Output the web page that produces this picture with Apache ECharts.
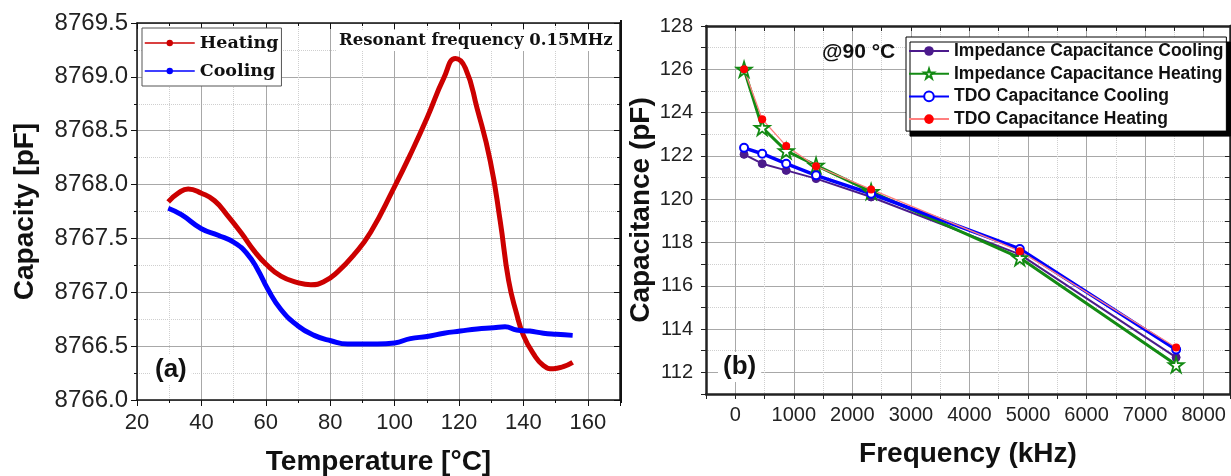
<!DOCTYPE html>
<html>
<head>
<meta charset="utf-8">
<script src="https://cdn.jsdelivr.net/npm/echarts@6/dist/echarts.min.js"></script>
<style>
  html, body { margin: 0; padding: 0; background: #fff; }
  #chart { width: 1231px; height: 476px; }
</style>
</head>
<body>
<div id="chart"></div>
<script>
// (a) capacity vs temperature
const tempHeat = [29.7, 32.8, 35.9, 40, 44.1, 48.2, 52.4, 56.5, 60.1, 64.7, 69.9, 74, 78.1, 82.3, 87.4, 92.6, 99.8, 104.9, 110.1, 115.3, 118.9, 122, 125.6, 129.7, 132.8, 135.4, 137.9, 140, 143.1, 146.2, 149.3, 152.4, 155.3]
const capHeat = [8767.84, 8767.92, 8767.96, 8767.92, 8767.85, 8767.71, 8767.55, 8767.38, 8767.26, 8767.15, 8767.09, 8767.07, 8767.10, 8767.19, 8767.35, 8767.56, 8767.97, 8768.28, 8768.62, 8768.99, 8769.17, 8769.08, 8768.71, 8768.22, 8767.66, 8767.11, 8766.80, 8766.60, 8766.43, 8766.32, 8766.29, 8766.31, 8766.35]
const tempCool = [29.7, 33.8, 40, 45.2, 50.3, 54.4, 57.5, 60.6, 64.7, 69.9, 75, 80.2, 85.4, 94.6, 100, 104.9, 110.1, 115.3, 120.4, 125.6, 130.7, 134.3, 137.9, 142, 146.2, 150.3, 155.3]
const capCool = [8767.78, 8767.72, 8767.59, 8767.53, 8767.46, 8767.35, 8767.21, 8767.03, 8766.84, 8766.69, 8766.60, 8766.55, 8766.52, 8766.52, 8766.53, 8766.57, 8766.59, 8766.62, 8766.64, 8766.66, 8766.67, 8766.68, 8766.65, 8766.64, 8766.62, 8766.61, 8766.60]

// (b) capacitance vs frequency @90 °C
const freqKHz = [150, 460, 870, 1380, 2320, 4860, 7530]
const impCool = [122.07, 121.64, 121.33, 120.95, 120.1, 117.45, 112.69]
const impHeat = [126.0, 123.31, 122.23, 121.56, 120.35, 117.29, 112.35]
const tdoCool = [122.37, 122.1, 121.64, 121.1, 120.25, 117.7, 113.05]
const tdoHeat = [126.0, 123.69, 122.46, 121.52, 120.45, 117.6, 113.15]

const sans = 'Liberation Sans, Arial, sans-serif'
const serif = 'DejaVu Serif, serif'
const major = '#a8a8a8'
const minor = '#cfcfcf'
const star = 'path://M50,0 L61,35 L98,35 L68,57 L79,91 L50,70 L21,91 L32,57 L2,35 L39,35 Z'

function pairs(xs, ys) {
  return xs.map((x, i) => [x, ys[i]])
}

let chartDom = echarts.init(document.getElementById('chart'))
let option = {
  animation: false,
  backgroundColor: '#fff',
  grid: [
    { left: 137, top: 23, width: 483, height: 377, outerBoundsMode: 'none', containLabel: false },
    { left: 706, top: 26, width: 524, height: 368, outerBoundsMode: 'none', containLabel: false },
  ],
  legend: [
    {
      data: ['Heating', 'Cooling'],
      orient: 'vertical',
      left: 142,
      top: 28,
      padding: [5, 3, 5, 2],
      itemWidth: 50,
      itemHeight: 8,
      itemGap: 8,
      backgroundColor: '#fff',
      borderColor: '#555',
      borderWidth: 1,
      lineStyle: { width: 1.5 },
      textStyle: { fontFamily: serif, fontWeight: 'bold', fontSize: 17.5, color: '#111', lineHeight: 20 },
    },
    {
      data: ['Impedance Capacitance Cooling', 'Impedance Capacitance Heating', 'TDO Capacitance Cooling', 'TDO Capacitance Heating'],
      orient: 'vertical',
      left: 906,
      top: 37,
      padding: [5, 3, 3, 2],
      itemWidth: 40,
      itemHeight: 12,
      itemGap: 4.7,
      backgroundColor: '#fff',
      borderColor: '#000',
      borderWidth: 1,
      shadowColor: '#000',
      shadowOffsetX: 4,
      shadowOffsetY: 5,
      shadowBlur: 0,
      textStyle: { fontFamily: sans, fontWeight: 'bold', fontSize: 17.5, color: '#111', lineHeight: 17 },
    },
  ],
  xAxis: [
    {
      gridIndex: 0,
      type: 'value',
      min: 20,
      max: 170,
      interval: 20,
      name: 'Temperature [°C]',
      nameLocation: 'middle',
      nameGap: 48,
      nameTextStyle: { fontFamily: sans, fontWeight: 'bold', fontSize: 28, color: '#111' },
      axisLine: { onZero: false, lineStyle: { color: '#111', width: 1.5 } },
      axisTick: { length: 6, lineStyle: { color: '#111' } },
      minorTick: { show: true, splitNumber: 2, length: 3, lineStyle: { color: '#111' } },
      axisLabel: {
        margin: 12,
        fontFamily: sans,
        fontSize: 22,
        color: '#222',
        showMaxLabel: false,
        formatter: (v) => (v % 20 === 0 ? v : ''),
      },
      splitLine: { show: true, lineStyle: { color: major } },
      minorSplitLine: { show: true, lineStyle: { color: minor, type: 'dotted' } },
    },
    {
      gridIndex: 0,
      type: 'value',
      position: 'top',
      min: 20,
      max: 170,
      interval: 20,
      axisLine: { onZero: false, lineStyle: { color: '#111', width: 1.5 } },
      axisTick: { inside: true, length: 6, lineStyle: { color: '#111' } },
      minorTick: { show: true, splitNumber: 2, length: 3, lineStyle: { color: '#111' } },
      axisLabel: { show: false },
      splitLine: { show: false },
    },
    {
      gridIndex: 1,
      type: 'value',
      min: -500,
      max: 8450,
      interval: 500,
      name: 'Frequency (kHz)',
      nameLocation: 'middle',
      nameGap: 46,
      nameTextStyle: { fontFamily: sans, fontWeight: 'bold', fontSize: 28, color: '#111' },
      axisLine: { onZero: false, lineStyle: { color: '#222', width: 2.5 } },
      axisTick: { length: 5, lineStyle: { color: '#222' } },
      axisLabel: {
        margin: 11,
        fontFamily: sans,
        fontSize: 20,
        color: '#222',
        formatter: (v) => (v % 1000 === 0 ? v : ''),
      },
      splitLine: { show: true, lineStyle: { color: minor, type: 'dotted' } },
    },
    {
      gridIndex: 1,
      type: 'value',
      position: 'top',
      min: -500,
      max: 8450,
      interval: 500,
      axisLine: { onZero: false, lineStyle: { color: '#222', width: 2.5 } },
      axisTick: { inside: true, length: 5, lineStyle: { color: '#222' } },
      axisLabel: { show: false },
      splitLine: { show: true, lineStyle: { color: ['rgba(0,0,0,0)', major] } },
    },
  ],
  yAxis: [
    {
      gridIndex: 0,
      type: 'value',
      min: 8766,
      max: 8769.5,
      interval: 0.5,
      name: 'Capacity [pF]',
      nameLocation: 'middle',
      nameGap: 98,
      nameTextStyle: { fontFamily: sans, fontWeight: 'bold', fontSize: 28, color: '#111' },
      axisLine: { onZero: false, lineStyle: { color: '#111', width: 1.5 } },
      axisTick: { length: 6, lineStyle: { color: '#111' } },
      minorTick: { show: true, splitNumber: 2, length: 3, lineStyle: { color: '#111' } },
      axisLabel: {
        margin: 9,
        fontFamily: sans,
        fontSize: 24,
        color: '#222',
        formatter: (v) => v.toFixed(1),
      },
      splitLine: { show: true, lineStyle: { color: major } },
      minorSplitLine: { show: true, lineStyle: { color: minor, type: 'dotted' } },
    },
    {
      gridIndex: 0,
      type: 'value',
      position: 'right',
      min: 8766,
      max: 8769.5,
      interval: 0.5,
      axisLine: { onZero: false, lineStyle: { color: '#111', width: 1.5 } },
      axisTick: { inside: true, length: 6, lineStyle: { color: '#111' } },
      minorTick: { show: true, splitNumber: 2, length: 3, lineStyle: { color: '#111' } },
      axisLabel: { show: false },
      splitLine: { show: false },
    },
    {
      gridIndex: 1,
      type: 'value',
      min: 111,
      max: 128,
      interval: 1,
      name: 'Capacitance (pF)',
      nameLocation: 'middle',
      nameGap: 49,
      nameTextStyle: { fontFamily: sans, fontWeight: 'bold', fontSize: 28, color: '#111' },
      axisLine: { onZero: false, lineStyle: { color: '#222', width: 2.5 } },
      axisTick: { length: 5, lineStyle: { color: '#222' } },
      axisLabel: {
        margin: 13,
        fontFamily: sans,
        fontSize: 20,
        color: '#222',
        formatter: (v) => (v % 2 === 0 ? v : ''),
      },
      splitLine: { show: true, lineStyle: { color: minor, type: 'dotted' } },
    },
    {
      gridIndex: 1,
      type: 'value',
      position: 'right',
      min: 111,
      max: 128,
      interval: 1,
      axisLine: { onZero: false, lineStyle: { color: '#222', width: 2.5 } },
      axisTick: { inside: true, length: 5, lineStyle: { color: '#222' } },
      axisLabel: { show: false },
      splitLine: { show: true, lineStyle: { color: ['rgba(0,0,0,0)', major] } },
    },
  ],
  series: [
    {
      name: 'Heating',
      type: 'line',
      xAxisIndex: 0,
      yAxisIndex: 0,
      smooth: 0.5,
      symbol: 'circle',
      showSymbol: false,
      color: '#cc0000',
      lineStyle: { width: 5, color: '#cc0000' },
      data: pairs(tempHeat, capHeat),
    },
    {
      name: 'Cooling',
      type: 'line',
      xAxisIndex: 0,
      yAxisIndex: 0,
      smooth: 0.5,
      symbol: 'circle',
      showSymbol: false,
      color: '#0000ff',
      lineStyle: { width: 5, color: '#0000ff' },
      data: pairs(tempCool, capCool),
    },
    {
      name: 'Impedance Capacitance Cooling',
      type: 'line',
      xAxisIndex: 2,
      yAxisIndex: 2,
      symbol: 'circle',
      symbolSize: 8,
      itemStyle: { color: '#4b1a8c', borderColor: '#4b1a8c' },
      lineStyle: { width: 2, color: '#4b1a8c' },
      data: pairs(freqKHz, impCool),
    },
    {
      name: 'Impedance Capacitance Heating',
      type: 'line',
      xAxisIndex: 2,
      yAxisIndex: 2,
      symbol: star,
      symbolSize: 15,
      itemStyle: { color: '#fff', borderColor: '#138a13', borderWidth: 1.8 },
      lineStyle: { width: 3, color: '#138a13' },
      data: pairs(freqKHz, impHeat),
    },
    {
      name: 'TDO Capacitance Cooling',
      type: 'line',
      xAxisIndex: 2,
      yAxisIndex: 2,
      symbol: 'emptyCircle',
      symbolSize: 8,
      itemStyle: { color: '#0000ff', borderColor: '#0000ff', borderWidth: 1.5 },
      lineStyle: { width: 3.5, color: '#0000ff' },
      data: pairs(freqKHz, tdoCool),
    },
    {
      name: 'TDO Capacitance Heating',
      type: 'line',
      xAxisIndex: 2,
      yAxisIndex: 2,
      symbol: 'circle',
      symbolSize: 8,
      itemStyle: { color: '#ff0000' },
      lineStyle: { width: 1.3, color: '#ff7f7f' },
      data: pairs(freqKHz, tdoHeat),
    },
  ],
  graphic: [
    {
      type: 'text',
      left: 336,
      top: 30,
      z: 10,
      style: {
        text: 'Resonant frequency 0.15MHz',
        fontFamily: serif,
        fontWeight: 'bold',
        fontSize: 16.5,
        fill: '#111',
        backgroundColor: '#fff',
        padding: [2, 3],
      },
    },
    {
      type: 'text',
      left: 150,
      top: 355,
      z: 10,
      style: {
        text: '(a)',
        fontFamily: sans,
        fontWeight: 'bold',
        fontSize: 26,
        fill: '#111',
        backgroundColor: '#fff',
        padding: [2, 5],
      },
    },
    {
      type: 'text',
      left: 718,
      top: 352,
      z: 10,
      style: {
        text: '(b)',
        fontFamily: sans,
        fontWeight: 'bold',
        fontSize: 26,
        fill: '#111',
        backgroundColor: '#fff',
        padding: [2, 5],
      },
    },
    {
      type: 'text',
      left: 822,
      top: 42,
      z: 10,
      style: {
        text: '@90 °C',
        fontFamily: sans,
        fontWeight: 'bold',
        fontSize: 21,
        fill: '#111',
      },
    },
    {
      type: 'line',
      z: 10,
      shape: { x1: 621, y1: 20, x2: 621, y2: 403 },
      style: { stroke: '#111', lineWidth: 2 },
    },
  ],
}
chartDom.setOption(option)
</script>
</body>
</html>
